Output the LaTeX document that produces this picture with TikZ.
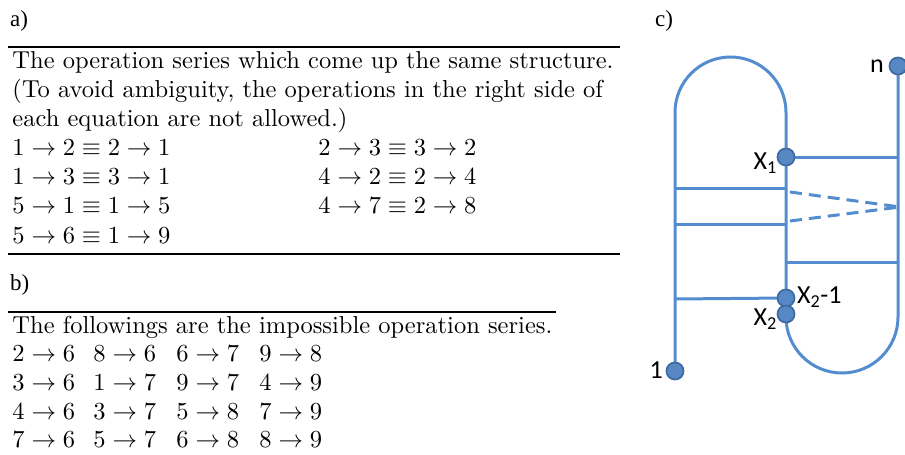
\documentclass[tikz,border=0pt]{standalone}
\usepackage{fontspec}
\newfontfamily\timesf{Liberation Serif}
\newfontfamily\calib{Carlito}
\definecolor{lineblue}{RGB}{84,141,207}
\definecolor{dotfill}{RGB}{88,136,196}
\definecolor{dotedge}{RGB}{60,105,160}
\begin{document}
\begin{tikzpicture}[x=1pt,y=-1pt,
  txt/.style={anchor=base west, inner sep=0pt, scale=2.45},
  lab/.style={anchor=base west, inner sep=0pt, font=\timesf\fontsize{23}{26}\selectfont},
  rul/.style={line width=1.4pt},
  wire/.style={draw=lineblue, line width=3pt},
  dashwire/.style={draw=lineblue, line width=3pt, dash pattern=on 12pt off 7pt},
  dot/.style={circle, fill=dotfill, draw=dotedge, line width=1.5pt, minimum size=17pt, inner sep=0pt},
  clab/.style={font=\calib\fontsize{26}{30}\selectfont, inner sep=0pt}]
\useasboundingbox (0,0) rectangle (905,455);
% ---------- a) ----------
\node[lab] (la) at (10,27) {a)};
\coordinate (ra1) at (8,47);  \coordinate (ra2) at (620,47);
\draw[rul] (ra1) -- (ra2);
\node[txt] (a1) at (12,68) {The operation series which come up the same structure.};
\node[txt] (a2) at (12,97) {(To avoid ambiguity, the operations in the right side of};
\node[txt] (a3) at (12,126) {each equation are not allowed.)};
\node[txt] (a4) at (12,155) {$1\to2\equiv2\to1$};
\node[txt] (a5) at (12,184) {$1\to3\equiv3\to1$};
\node[txt] (a6) at (12,213) {$5\to1\equiv1\to5$};
\node[txt] (a7) at (12,243) {$5\to6\equiv1\to9$};
\node[txt] (a8) at (318,155) {$2\to3\equiv3\to2$};
\node[txt] (a9) at (318,184) {$4\to2\equiv2\to4$};
\node[txt] (a10) at (318,213) {$4\to7\equiv2\to8$};
\coordinate (rb1) at (8,254);  \coordinate (rb2) at (620,254);
\draw[rul] (rb1) -- (rb2);
% ---------- b) ----------
\node[lab] (lb) at (10,290) {b)};
\coordinate (rc1) at (8,312);  \coordinate (rc2) at (556,312);
\draw[rul] (rc1) -- (rc2);
\node[txt] (b0) at (12,333) {The followings are the impossible operation series.};
\foreach \r/\y/\p/\q/\s/\t in {1/361/{2\to6}/{8\to6}/{6\to7}/{9\to8},
                              2/390/{3\to6}/{1\to7}/{9\to7}/{4\to9},
                              3/419/{4\to6}/{3\to7}/{5\to8}/{7\to9},
                              4/447/{7\to6}/{5\to7}/{6\to8}/{8\to9}}{
  \node[txt] (b\r a) at (12,\y) {$\p$};
  \node[txt] (b\r b) at (93,\y) {$\q$};
  \node[txt] (b\r c) at (176,\y) {$\s$};
  \node[txt] (b\r d) at (259,\y) {$\t$};
}
% ---------- c) ----------
\node[lab] (lc) at (655,27) {c)};
\coordinate (la1) at (675,112.5);
\coordinate (lr1) at (786,317);
\coordinate (h1a) at (675,188); \coordinate (h1b) at (786,188);
\coordinate (h2a) at (675,224); \coordinate (h2b) at (786,224);
\coordinate (h3a) at (786,262); \coordinate (h3b) at (898,262);
\coordinate (h4a) at (675,299);
\coordinate (h5b) at (898,157);
\coordinate (d1) at (790,192); \coordinate (d2) at (790,221); \coordinate (dt) at (900,207);
\node[dot] (one) at (675,371) {};
\node[dot] (n) at (898,66) {};
\node[dot] (x1) at (786,157) {};
\node[dot] (x2m) at (786,298) {};
\node[dot] (x2) at (786,314) {};
\draw[wire] (one.center) -- (la1) arc[start angle=180, end angle=360, radius=55.5] -- (x2m.center);
\draw[wire] (x2.center) -- (lr1) arc[start angle=180, end angle=0, radius=56] -- (n.center);
\draw[wire] (x1.center) -- (h5b);
\draw[wire] (h1a) -- (h1b);
\draw[wire] (h2a) -- (h2b);
\draw[wire] (h3a) -- (h3b);
\draw[wire] (h4a) -- (x2m.center);
\draw[dashwire] (d1) -- (dt);
\draw[dashwire] (d2) -- (dt);
\node[dot] at (one) {};
\node[dot] at (n) {};
\node[dot] at (x1) {};
\node[dot] at (x2m) {};
\node[dot] at (x2) {};
\node[clab, anchor=east] (ln) at (884,66) {n};
\node[clab, anchor=east] (lx1) at (777,163) {X\textsubscript{1}};
\node[clab, anchor=west] (lx2m) at (797,297) {X\textsubscript{2}-1};
\node[clab, anchor=east] (lx2) at (777,319) {X\textsubscript{2}};
\node[clab, anchor=east] (l1) at (663,370) {1};
\end{tikzpicture}
\end{document}
